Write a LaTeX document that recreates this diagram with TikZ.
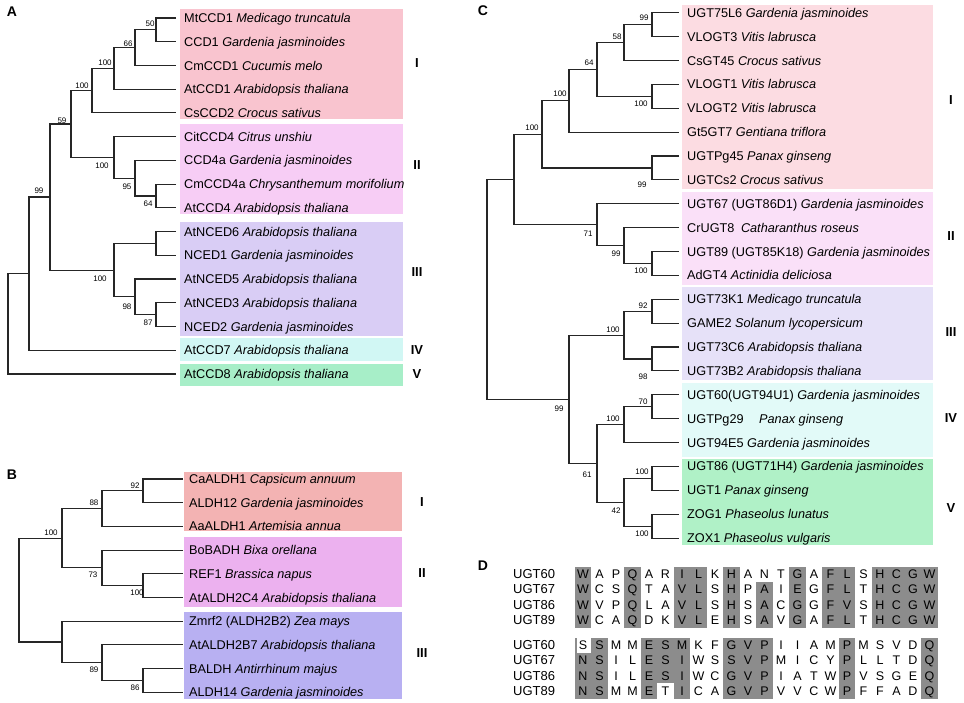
\documentclass[tikz,border=0pt]{standalone}
\usepackage{fontspec}
\setmainfont{Liberation Sans}
\usetikzlibrary{calc}

% clade colours
\definecolor{cladeAi}{HTML}{F9C4CF}
\definecolor{cladeAii}{HTML}{F7CDF5}
\definecolor{cladeAiii}{HTML}{D9CDF5}
\definecolor{cladeAiv}{HTML}{D1F7F4}
\definecolor{cladeAv}{HTML}{A7EEC8}
\definecolor{cladeBi}{HTML}{F3B3B3}
\definecolor{cladeBii}{HTML}{ECB1EF}
\definecolor{cladeBiii}{HTML}{B8B0F2}
\definecolor{cladeCi}{HTML}{FCDCE2}
\definecolor{cladeCii}{HTML}{FAE0F8}
\definecolor{cladeCiii}{HTML}{E6E1F8}
\definecolor{cladeCiv}{HTML}{E2FAF8}
\definecolor{cladeCv}{HTML}{B0F1C7}

\begin{document}
\begin{tikzpicture}[x=1pt, y=-1pt,
    branch/.style={line width=1.1pt, black!85},
    leaf/.style={anchor=west, inner sep=0pt, text height=9.1pt, text depth=0pt, font=\fontsize{12.7}{15}\selectfont},
    boot/.style={inner sep=0pt, text height=5.8pt, text depth=0pt, font=\fontsize{8}{9}\selectfont},
    clade/.style={inner sep=0pt, text height=9.5pt, text depth=0pt, font=\fontsize{13}{15}\selectfont\bfseries},
    panel/.style={inner sep=0pt, text height=10pt, text depth=0pt, font=\fontsize{14}{16}\selectfont\bfseries},
    residue/.style={inner sep=0pt, text height=8.9pt, text depth=0pt, font=\fontsize{12.5}{14}\selectfont},
    seqname/.style={anchor=west, inner sep=0pt, text height=9.3pt, text depth=0pt, font=\fontsize{13}{15}\selectfont},
    conserved/.style={fill=black!45}]

    \useasboundingbox (0,0) rectangle (964,703);

    % Panel letters
    \node[panel] (labA) at (12,12) {A};
    \node[panel] (labB) at (12,474) {B};
    \node[panel] (labC) at (483,11) {C};
    \node[panel] (labD) at (483,565) {D};

    %%%%%%%%%%%%%%%%%%%% A: CCD tree %%%%%%%%%%%%%%%%%%%%
    % Coloured clades
    \fill[cladeAi] (180,9) rectangle (403,119);
    \fill[cladeAii] (180,124) rectangle (403,214);
    \fill[cladeAiii] (180,222) rectangle (403,336);
    \fill[cladeAiv] (180,338) rectangle (403,361);
    \fill[cladeAv] (180,364) rectangle (403,386);
    % Leaves
    \foreach \g/\s [count=\i] in {MtCCD1/Medicago truncatula, CCD1/Gardenia jasminoides,
        CmCCD1/Cucumis melo, AtCCD1/Arabidopsis thaliana, CsCCD2/Crocus sativus,
        CitCCD4/Citrus unshiu, CCD4a/Gardenia jasminoides, CmCCD4a/Chrysanthemum morifolium,
        AtCCD4/Arabidopsis thaliana, AtNCED6/Arabidopsis thaliana, NCED1/Gardenia jasminoides,
        AtNCED5/Arabidopsis thaliana, AtNCED3/Arabidopsis thaliana, NCED2/Gardenia jasminoides,
        AtCCD7/Arabidopsis thaliana, AtCCD8/Arabidopsis thaliana}
    {
        \pgfmathsetmacro{\y}{18+(\i-1)*23.73}
        \coordinate (la\i) at (176,\y);
        \node[leaf] (ta\i) at (184,\y) {\g\ \textit{\s}};
    }
    % Inner nodes
    \coordinate (a50) at (156,29.9);
    \coordinate (a66) at (135,47.7);
    \coordinate (a100a) at (114,68.4);
    \coordinate (a100b) at (92,90.7);
    \coordinate (a64) at (156,196.0);
    \coordinate (a95) at (135,178.2);
    \coordinate (a100c) at (114,157.4);
    \coordinate (a59) at (71,124.0);
    \coordinate (a100e) at (156,243.4);
    \coordinate (a87) at (156,314.6);
    \coordinate (a98) at (135,296.8);
    \coordinate (a100d) at (114,270.1);
    \coordinate (a99) at (50,197.0);
    \coordinate (ar1) at (29,273.6);
    \coordinate (ar) at (8,323.8);
    % Branches
    \foreach \c/\p/\d in {la1/a50/la2, a50/a66/la3, a66/a100a/la4, a100a/a100b/la5,
        la8/a64/la9, la7/a95/a64, la6/a100c/a95, a100b/a59/a100c,
        la10/a100e/la11, la13/a87/la14, la12/a98/a87, a100e/a100d/a98,
        a59/a99/a100d, a99/ar1/la15, ar1/ar/la16}
    {
        \draw[branch] (\c) -| (\p) |- (\d);
    }
    % Bootstrap values
    \foreach \x/\y/\v [count=\i] in {150/24/50, 128/44/66, 105/63/100, 82/86/100, 62/121/59,
        39/191/99, 102/166/100, 127/187/95, 148/204/64, 100/279/100, 127/307/98, 148/323/87}
    {
        \node[boot] (ba\i) at (\x,\y) {\v};
    }
    % Clade numbers
    \foreach \y/\r [count=\i] in {63/I, 165/II, 272/III, 350/IV, 374/V}
    {
        \node[clade] (ga\i) at (417,\y) {\r};
    }

    %%%%%%%%%%%%%%%%%%%% B: ALDH tree %%%%%%%%%%%%%%%%%%%%
    \fill[cladeBi] (184,472) rectangle (402,531);
    \fill[cladeBii] (184,537) rectangle (402,607);
    \fill[cladeBiii] (184,612) rectangle (402,699);
    % Leaves
    \foreach \g/\s [count=\i] in {CaALDH1/Capsicum annuum, ALDH12/Gardenia jasminoides,
        AaALDH1/Artemisia annua, BoBADH/Bixa orellana, REF1/Brassica napus,
        AtALDH2C4/Arabidopsis thaliana, {Zmrf2 (ALDH2B2)}/Zea mays,
        AtALDH2B7/Arabidopsis thaliana, BALDH/Antirrhinum majus, ALDH14/Gardenia jasminoides}
    {
        \pgfmathsetmacro{\y}{479+(\i-1)*23.7}
        \coordinate (lb\i) at (183,\y);
        \node[leaf] (tb\i) at (189,\y) {\g\ \textit{\s}};
    }
    % Inner nodes
    \coordinate (b92) at (143,490.9);
    \coordinate (b88) at (102,508.6);
    \coordinate (b100b) at (143,585.7);
    \coordinate (b73) at (102,567.9);
    \coordinate (b100a) at (62,538.2);
    \coordinate (b86) at (143,680.5);
    \coordinate (b89) at (102,662.7);
    \coordinate (b3) at (62,642.0);
    \coordinate (br) at (19,590.1);
    % Branches
    \foreach \c/\p/\d in {lb1/b92/lb2, b92/b88/lb3, lb5/b100b/lb6, lb4/b73/b100b,
        b88/b100a/b73, lb9/b86/lb10, lb8/b89/b86, lb7/b3/b89, b100a/br/b3}
    {
        \draw[branch] (\c) -| (\p) |- (\d);
    }
    % Bootstrap values
    \foreach \x/\y/\v [count=\i] in {135/486/92, 94/503/88, 51/533/100, 93/575/73,
        137/593/100, 94/670/89, 135/688/86}
    {
        \node[boot] (bb\i) at (\x,\y) {\v};
    }
    % Clade numbers
    \foreach \y/\r [count=\i] in {502/I, 573/II, 653/III}
    {
        \node[clade] (gb\i) at (422,\y) {\r};
    }

    %%%%%%%%%%%%%%%%%%%% C: UGT tree %%%%%%%%%%%%%%%%%%%%
    \fill[cladeCi] (682,5) rectangle (933,189);
    \fill[cladeCii] (682,192) rectangle (933,285);
    \fill[cladeCiii] (682,287) rectangle (933,380);
    \fill[cladeCiv] (682,383) rectangle (933,457);
    \fill[cladeCv] (682,459) rectangle (933,545);
    % Leaves
    \foreach \g/\s [count=\i] in {UGT75L6/Gardenia jasminoides, VLOGT3/Vitis labrusca,
        CsGT45/Crocus sativus, VLOGT1/Vitis labrusca, VLOGT2/Vitis labrusca,
        Gt5GT7/Gentiana triflora, UGTPg45/Panax ginseng, UGTCs2/Crocus sativus,
        {UGT67 (UGT86D1)}/Gardenia jasminoides, {CrUGT8\hspace{3pt}}/Catharanthus roseus,
        {UGT89 (UGT85K18)}/Gardenia jasminoides, AdGT4/Actinidia deliciosa,
        UGT73K1/Medicago truncatula, GAME2/Solanum lycopersicum,
        UGT73C6/Arabidopsis thaliana, UGT73B2/Arabidopsis thaliana,
        {UGT60(UGT94U1)}/Gardenia jasminoides, {UGTPg29\hspace{12pt}}/Panax ginseng,
        UGT94E5/Gardenia jasminoides, {UGT86 (UGT71H4)}/Gardenia jasminoides,
        UGT1/Panax ginseng, ZOG1/Phaseolus lunatus, ZOX1/Phaseolus vulgaris}
    {
        \pgfmathsetmacro{\y}{12.7+(\i-1)*23.88}
        \coordinate (lc\i) at (679,\y);
        \node[leaf] (tc\i) at (687,\y) {\g\ \textit{\s}};
    }
    % Inner nodes
    \coordinate (c99a) at (652,24.7);
    \coordinate (c58) at (624,42.6);
    \coordinate (c100a) at (652,96.3);
    \coordinate (c64) at (597,69.5);
    \coordinate (c100b) at (569,100.8);
    \coordinate (c99b) at (652,168.0);
    \coordinate (c100c) at (542,134.4);
    \coordinate (c100d) at (652,263.5);
    \coordinate (c99c) at (624,245.6);
    \coordinate (c71) at (597,224.7);
    \coordinate (c12) at (514,179.6);
    \coordinate (c92) at (652,311.2);
    \coordinate (c98) at (652,359.0);
    \coordinate (c100e) at (624,335.1);
    \coordinate (c70) at (652,406.8);
    \coordinate (c100f) at (624,424.7);
    \coordinate (c100g) at (652,478.4);
    \coordinate (c100h) at (652,526.2);
    \coordinate (c42) at (624,502.3);
    \coordinate (c61) at (597,463.5);
    \coordinate (c99) at (569,399.3);
    \coordinate (cr) at (487,289.5);
    % Branches
    \foreach \c/\p/\d in {lc1/c99a/lc2, c99a/c58/lc3, lc4/c100a/lc5, c58/c64/c100a,
        c64/c100b/lc6, lc7/c99b/lc8, c100b/c100c/c99b, lc11/c100d/lc12,
        lc10/c99c/c100d, lc9/c71/c99c, c100c/c12/c71,
        lc13/c92/lc14, lc15/c98/lc16, c92/c100e/c98, lc17/c70/lc18, c70/c100f/lc19,
        lc20/c100g/lc21, lc22/c100h/lc23, c100g/c42/c100h, c100f/c61/c42,
        c100e/c99/c61, c12/cr/c99}
    {
        \draw[branch] (\c) -| (\p) |- (\d);
    }
    % Bootstrap values
    \foreach \x/\y/\v [count=\i] in {644/18/99, 617/37/58, 589/63/64, 560/94/100, 532/128/100,
        641/104/100, 642/185/99, 588/234/71, 616/254/99, 641/271/100,
        643/306/92, 613/330/100, 643/377/98, 559/409/99, 643/402/70, 613/419/100,
        587/475/61, 642/472/100, 616/511/42, 642/534/100}
    {
        \node[boot] (bc\i) at (\x,\y) {\v};
    }
    % Clade numbers
    \foreach \y/\r [count=\i] in {100/I, 236/II, 332/III, 418/IV, 508/V}
    {
        \node[clade] (gc\i) at (951,\y) {\r};
    }

    %%%%%%%%%%%%%%%%%%%% D: alignment %%%%%%%%%%%%%%%%%%%%
    % Conserved columns, first block
    \foreach \j in {1,4,7,8,10,14,16,17,19,20,21,22}
    {
        \fill[conserved] ({583+(\j-1.5)*16.5},566.5) rectangle ({583+(\j-0.5)*16.5},627.5);
    }
    \fill[conserved] ({583+10.5*16.5},581.8) rectangle ({583+11.5*16.5},627.5);
    % Conserved columns, second block
    \foreach \j in {2,5,7,10,11,12,17,22}
    {
        \fill[conserved] ({583+(\j-1.5)*16.5},637.5) rectangle ({583+(\j-0.5)*16.5},698.5);
    }
    \fill[conserved] ({583-0.5*16.5},652.8) rectangle ({583+0.5*16.5},698.5);
    \fill[conserved] ({583-0.5*16.5},637.5) rectangle ({583-0.5*16.5+2},652.8);
    \fill[conserved] ({583+4.5*16.5},637.5) rectangle ({583+5.5*16.5},683.4);
    % Sequence names
    \foreach \n [count=\i] in {UGT60,UGT67,UGT86,UGT89}
    {
        \node[seqname] (da\i) at (513,{574+(\i-1)*15.3}) {\n};
        \node[seqname] (db\i) at (513,{645+(\i-1)*15.3}) {\n};
    }
    % Residues
    \foreach \l [count=\j] in {W,A,P,Q,A,R,I,L,K,H,A,N,T,G,A,F,L,S,H,C,G,W}
        \node[residue] (ra1c\j) at ({583+(\j-1)*16.5},574) {\l};
    \foreach \l [count=\j] in {W,C,S,Q,T,A,V,L,S,H,P,A,I,E,G,F,L,T,H,C,G,W}
        \node[residue] (ra2c\j) at ({583+(\j-1)*16.5},589.3) {\l};
    \foreach \l [count=\j] in {W,V,P,Q,L,A,V,L,S,H,S,A,C,G,G,F,V,S,H,C,G,W}
        \node[residue] (ra3c\j) at ({583+(\j-1)*16.5},604.6) {\l};
    \foreach \l [count=\j] in {W,C,A,Q,D,K,V,L,E,H,S,A,V,G,A,F,L,T,H,C,G,W}
        \node[residue] (ra4c\j) at ({583+(\j-1)*16.5},619.9) {\l};
    \foreach \l [count=\j] in {S,S,M,M,E,S,M,K,F,G,V,P,I,I,A,M,P,M,S,V,D,Q}
        \node[residue] (rb1c\j) at ({583+(\j-1)*16.5},645) {\l};
    \foreach \l [count=\j] in {N,S,I,L,E,S,I,W,S,S,V,P,M,I,C,Y,P,L,L,T,D,Q}
        \node[residue] (rb2c\j) at ({583+(\j-1)*16.5},660.3) {\l};
    \foreach \l [count=\j] in {N,S,I,L,E,S,I,W,C,G,V,P,I,A,T,W,P,V,S,G,E,Q}
        \node[residue] (rb3c\j) at ({583+(\j-1)*16.5},675.6) {\l};
    \foreach \l [count=\j] in {N,S,M,M,E,T,I,C,A,G,V,P,V,V,C,W,P,F,F,A,D,Q}
        \node[residue] (rb4c\j) at ({583+(\j-1)*16.5},690.9) {\l};
\end{tikzpicture}
\end{document}
